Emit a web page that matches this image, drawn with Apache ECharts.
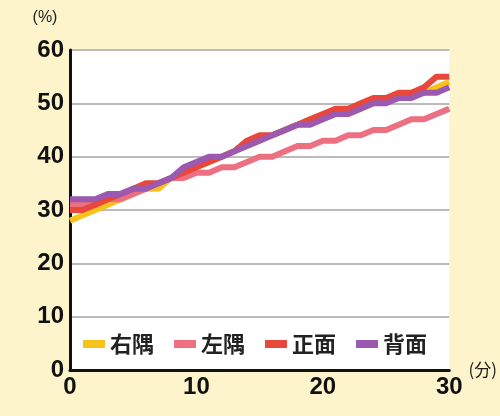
<!DOCTYPE html><html><head><meta charset="utf-8"><script src="https://cdn.jsdelivr.net/npm/echarts@6/dist/echarts.min.js"></script>
<style>body{margin:0;background:#fdf4cc}#c{width:500px;height:416px}</style></head><body><div id="c"></div><script>
const xs=[...Array(31).keys()];
const names=['右隅','左隅','正面','背面'];
const colors=['#f7c21a','#ec6f82','#e8473c','#9b59b0'];
const migisumi=[28,29,30,31,32,33,34,34,36,37,38,39,40,41,42,43,44,45,46,47,47,48,48,49,50,51,51,52,52,53,54];
const hidarisumi=[31,31,31,32,32,33,34,35,36,36,37,37,38,38,39,40,40,41,42,42,43,43,44,44,45,45,46,47,47,48,49];
const shomen=[30,30,31,32,33,34,35,35,36,37,38,39,40,41,43,44,44,45,46,47,48,49,49,50,51,51,52,52,53,55,55];
const haimen=[32,32,32,33,33,34,34,35,36,38,39,40,40,41,42,43,44,45,46,46,47,48,48,49,50,50,51,51,52,52,53];
const data=[migisumi,hidarisumi,shomen,haimen];
const ch=echarts.init(document.getElementById('c'));
ch.setOption({
 backgroundColor:'#fdf4cc',
 grid:{left:70,right:45,top:50,bottom:46,backgroundColor:'#fff',show:true,borderWidth:0},
 legend:{bottom:56,left:78,itemWidth:22,itemHeight:8,itemGap:20,icon:'rect',
  textStyle:{fontSize:22,fontWeight:'bold',color:'#222',fontFamily:'Noto Sans CJK JP'},backgroundColor:'#fff'},
 xAxis:{type:'value',min:0,max:30,interval:10,name:'(分)',nameGap:4,
  nameTextStyle:{fontSize:17,color:'#222',fontFamily:'Noto Sans CJK JP',verticalAlign:'middle',padding:[40,0,0,0]},
  axisLine:{lineStyle:{color:'#111',width:3}},axisTick:{show:false},splitLine:{show:false},
  axisLabel:{fontSize:24,fontWeight:'bold',color:'#111',margin:5}},
 yAxis:{type:'value',min:0,max:60,interval:10,name:'(%)',nameGap:24,
  nameTextStyle:{fontSize:16,color:'#222',padding:[0,50,0,0]},
  axisLine:{show:true,lineStyle:{color:'#111',width:3}},axisTick:{show:false},
  splitLine:{lineStyle:{color:'#bbb',width:2}},
  axisLabel:{fontSize:24,fontWeight:'bold',color:'#111',margin:6}},
 series:names.map((n,i)=>({name:n,type:'line',showSymbol:false,color:colors[i],
  lineStyle:{width:6},data:xs.map((x,j)=>[x,data[i][j]])}))
});
</script></body></html>
